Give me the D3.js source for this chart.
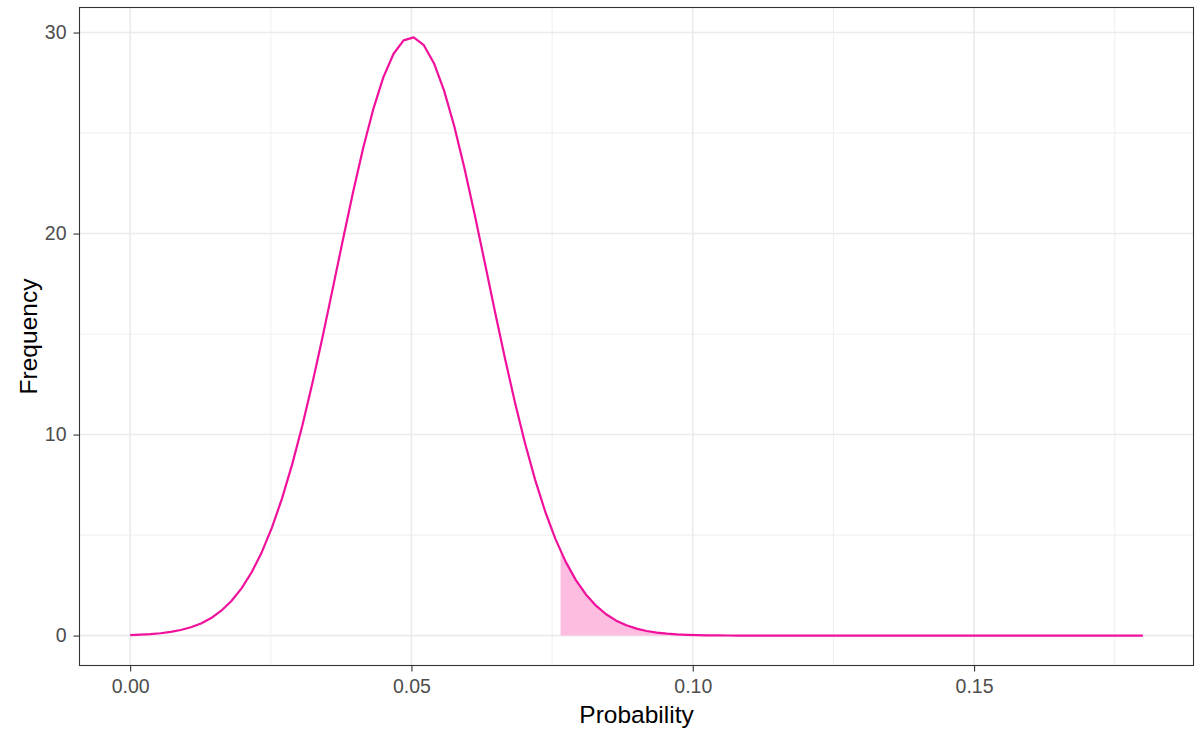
<!DOCTYPE html>
<html>
<head>
<meta charset="utf-8">
<script src="https://cdn.jsdelivr.net/npm/d3@7"></script>
<style>
  body { margin: 0; background: #fff; }
  svg { display: block; font-family: "Liberation Sans", Arial, sans-serif; }
  .grid-major line { stroke: #ebebeb; stroke-width: 1.6; }
  .grid-minor line { stroke: #ebebeb; stroke-width: 0.8; }
  .axis path { display: none; }
  .axis line { stroke: #333333; stroke-width: 1.1; }
  .axis text { fill: #4d4d4d; font-size: 19.5px; }
  .title { fill: #000; font-size: 24.5px; }
</style>
</head>
<body>
<svg id="chart" width="1200" height="734"></svg>
<script>
// sample points along the curve (step 0.0018 from 0 to 0.18)
var probs = [];
for (var i = 0; i <= 100; i++) probs.push(+(i * 0.0018).toFixed(4));

// frequency, one per point above
var freqs = [
  0.028, 0.046, 0.074, 0.117, 0.181, 0.276, 0.412, 0.605, 0.873, 1.237,
  1.720, 2.349, 3.151, 4.151, 5.371, 6.824, 8.517, 10.439, 12.565, 14.856,
  17.248, 19.670, 22.028, 24.231, 26.173, 27.768, 28.933, 29.608, 29.757, 29.371,
  28.473, 27.108, 25.347, 23.276, 20.994, 18.595, 16.176, 13.821, 11.597, 9.557,
  7.735, 6.148, 4.800, 3.680, 2.772, 2.049, 1.488, 1.062, 0.744, 0.512,
  0.346, 0.230, 0.150, 0.096, 0.060, 0.037, 0.0225, 0.0134, 0.0079, 0.0045,
  0.0025, 0.0014, 0.0008, 0.0004, 0.0002, 0.0001, 0, 0, 0, 0,
  0, 0, 0, 0, 0, 0, 0, 0, 0, 0,
  0, 0, 0, 0, 0, 0, 0, 0, 0, 0,
  0, 0, 0, 0, 0, 0, 0, 0, 0, 0,
  0
];

// start of the shaded tail
var shadeStart = 0.0765;
var shadeStartFreq = 4.25;

var xTicks = [0, 0.05, 0.10, 0.15];
var xTickLabels = ["0.00", "0.05", "0.10", "0.15"];
var xMinor = [0.025, 0.075, 0.125, 0.175];
var yTicks = [0, 10, 20, 30];
var yMinor = [5, 15, 25];

var data = probs.map(function(p, i){ return {x: p, y: freqs[i]}; });
var shade = [{x: shadeStart, y: shadeStartFreq}].concat(data.filter(function(d){ return d.x > shadeStart; }));

var svg = d3.select("#chart");
var pLeft = 79.5, pRight = 1193.5, pTop = 7.5, pBottom = 665.5;

// ggplot style 5% expansion
var xExt = d3.extent(probs), yExt = [0, d3.max(freqs)];
var xPad = (xExt[1] - xExt[0]) * 0.05, yPad = (yExt[1] - yExt[0]) * 0.05;

var xScale = d3.scaleLinear()
  .domain([xExt[0] - xPad, xExt[1] + xPad])
  .range([pLeft, pRight]);

var yScale = d3.scaleLinear()
  .domain([yExt[0] - yPad, yExt[1] + yPad])
  .range([pBottom, pTop]);

// grid
svg.append("g").attr("class", "grid-minor")
  .selectAll("line").data(xMinor).enter().append("line")
  .attr("x1", function(d){ return xScale(d); }).attr("x2", function(d){ return xScale(d); })
  .attr("y1", pTop).attr("y2", pBottom);
svg.append("g").attr("class", "grid-minor")
  .selectAll("line").data(yMinor).enter().append("line")
  .attr("y1", function(d){ return yScale(d); }).attr("y2", function(d){ return yScale(d); })
  .attr("x1", pLeft).attr("x2", pRight);
svg.append("g").attr("class", "grid-major")
  .selectAll("line").data(xTicks).enter().append("line")
  .attr("x1", function(d){ return xScale(d); }).attr("x2", function(d){ return xScale(d); })
  .attr("y1", pTop).attr("y2", pBottom);
svg.append("g").attr("class", "grid-major")
  .selectAll("line").data(yTicks).enter().append("line")
  .attr("y1", function(d){ return yScale(d); }).attr("y2", function(d){ return yScale(d); })
  .attr("x1", pLeft).attr("x2", pRight);

// shaded tail
var area = d3.area()
  .x(function(d){ return xScale(d.x); })
  .y0(yScale(0))
  .y1(function(d){ return yScale(d.y); });

svg.append("path")
  .datum(shade)
  .attr("fill", "#fcbde1")
  .attr("d", area);

// curve
var line = d3.line()
  .x(function(d){ return xScale(d.x); })
  .y(function(d){ return yScale(d.y); });

svg.append("path")
  .datum(data)
  .attr("fill", "none")
  .attr("stroke", "#f0109c")
  .attr("stroke-width", 2.2)
  .attr("stroke-linejoin", "round")
  .attr("d", line);

// panel border
svg.append("rect")
  .attr("x", pLeft).attr("y", pTop)
  .attr("width", pRight - pLeft).attr("height", pBottom - pTop)
  .attr("fill", "none").attr("stroke", "#333333").attr("stroke-width", 1.1);

// axes
svg.append("g")
  .attr("class", "axis")
  .attr("transform", "translate(0," + pBottom + ")")
  .call(d3.axisBottom(xScale).tickValues(xTicks)
    .tickFormat(function(d, i){ return xTickLabels[i]; })
    .tickSize(6).tickPadding(7.5));

svg.append("g")
  .attr("class", "axis")
  .attr("transform", "translate(" + pLeft + ",0)")
  .call(d3.axisLeft(yScale).tickValues(yTicks).tickSize(6).tickPadding(7));

svg.append("text")
  .attr("class", "title")
  .attr("x", (pLeft + pRight) / 2).attr("y", 723)
  .attr("text-anchor", "middle")
  .text("Probability");

svg.append("text")
  .attr("class", "title")
  .attr("transform", "translate(36.5," + (pTop + pBottom) / 2 + ") rotate(-90)")
  .attr("text-anchor", "middle")
  .text("Frequency");
</script>
</body>
</html>
